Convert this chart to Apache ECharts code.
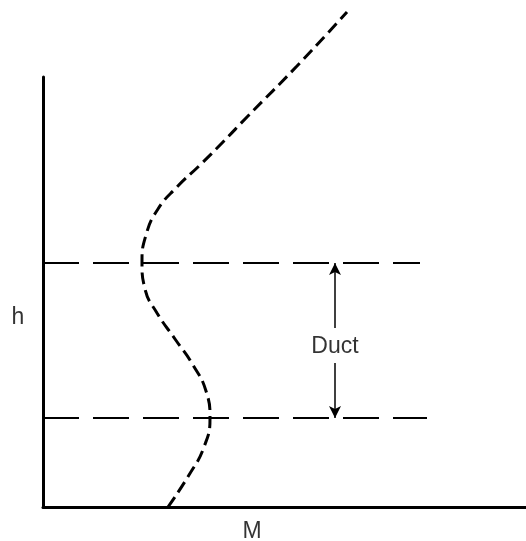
<!DOCTYPE html>
<html>
<head>
<meta charset="utf-8">
<script src="https://cdn.jsdelivr.net/npm/echarts@6/dist/echarts.min.js"></script>
<style>
  html, body { margin: 0; padding: 0; background: #fff; }
  #main { width: 526px; height: 541px; }
</style>
</head>
<body>
<div id="main"></div>
<script>
// M profile vs height (arbitrary units)
var mCurve = [125, 146, 161, 167, 163, 150, 132, 114, 102, 99, 103, 115, 134, 157, 180, 204, 254, 304];
var hCurve = [0, 32, 60, 89, 116, 142, 168, 194, 218, 244, 272, 298, 320, 342, 365, 390, 441, 495];

// duct boundaries: height and how far the dashed line runs in M
var ductLevels = [244, 89];
var ductLineEnds = [377, 384];

// arrow position and gap left for the label
var arrowM = 292;
var arrowGap = [179, 144];
var ductLabel = 'Duct';
var labelH = 160;

// axis titles
var axisTitles = ['h', 'M'];
var axisTitlePos = [[-25, 189], [209, -25]];

var curveData = [];
for (var i = 0; i < mCurve.length; i++) {
	curveData.push([mCurve[i], hCurve[i]]);
}
var titleData = [];
for (var j = 0; j < axisTitles.length; j++) {
	titleData.push({ name: axisTitles[j], value: axisTitlePos[j] });
}

var INK = '#000';
var FONT = 'Liberation Sans';

var series = [
	{
		name: 'profile',
		type: 'line',
		data: curveData,
		smooth: 0.5,
		showSymbol: false,
		clip: false,
		lineStyle: { color: INK, width: 3, type: [12, 6] }
	}
];

for (var k = 0; k < ductLevels.length; k++) {
	series.push({
		type: 'line',
		data: [[0, ductLevels[k]], [ductLineEnds[k], ductLevels[k]]],
		showSymbol: false,
		lineStyle: { color: INK, width: 2, type: [36, 14] }
	});
}

// double arrow, split round the label
series.push({
	type: 'scatter',
	data: [[arrowM, labelH]],
	symbolSize: 0,
	label: {
		show: true,
		position: 'inside',
		formatter: ductLabel,
		color: INK,
		textBorderWidth: 0,
		fontFamily: FONT,
		fontSize: 23
	},
	markLine: {
		silent: true,
		symbol: ['none', 'arrow'],
		symbolSize: [9, 12],
		label: { show: false },
		lineStyle: { color: INK, width: 1.5, type: 'solid' },
		data: [
			[{ coord: [arrowM, arrowGap[0]] }, { coord: [arrowM, ductLevels[0]] }],
			[{ coord: [arrowM, arrowGap[1]] }, { coord: [arrowM, ductLevels[1]] }]
		]
	}
});

// h and M titles, outside the plot
series.push({
	type: 'scatter',
	data: titleData,
	symbolSize: 0,
	clip: false,
	label: {
		show: true,
		position: 'inside',
		formatter: '{b}',
		color: INK,
		textBorderWidth: 0,
		fontFamily: FONT,
		fontSize: 23
	}
});

var chart = echarts.init(document.getElementById('main'));
chart.setOption({
	backgroundColor: '#fff',
	animation: false,
	grid: { left: 43, right: 0, top: 77, bottom: 34, outerBoundsMode: 'none' },
	xAxis: {
		type: 'value',
		min: 0,
		max: 483,
		axisLine: { show: true, onZero: false, lineStyle: { color: INK, width: 3 } },
		axisTick: { show: false },
		axisLabel: { show: false },
		splitLine: { show: false }
	},
	yAxis: {
		type: 'value',
		min: 0,
		max: 430,
		axisLine: { show: true, onZero: false, lineStyle: { color: INK, width: 3 } },
		axisTick: { show: false },
		axisLabel: { show: false },
		splitLine: { show: false }
	},
	series: series
});
</script>
</body>
</html>
